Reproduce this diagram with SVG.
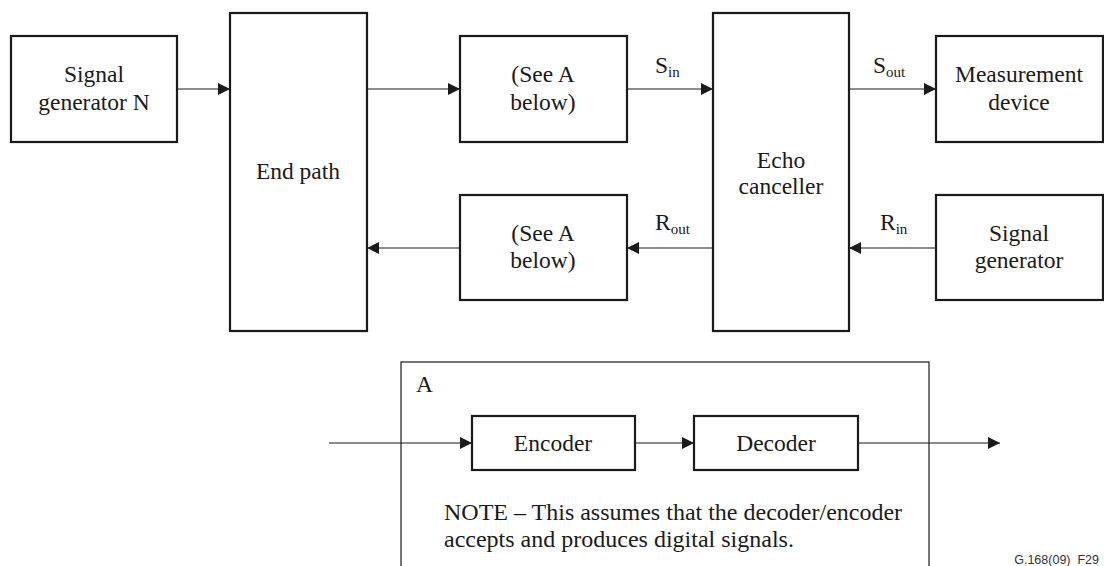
<svg xmlns="http://www.w3.org/2000/svg" width="1104" height="566" viewBox="0 0 1104 566">
<style>
.box{fill:#fff;stroke:#1a1a1a;stroke-width:2.2}
.thin{fill:none;stroke:#1a1a1a;stroke-width:1.2}
.t{font-family:'Liberation Serif','DejaVu Serif',serif;font-size:23.5px;fill:#1a1a1a;text-anchor:middle}
.l{font-family:'Liberation Serif','DejaVu Serif',serif;font-size:23.5px;fill:#1a1a1a}
.n{font-size:24px}
.sub{font-size:15px}
.c{stroke:#1a1a1a;stroke-width:1.2;fill:none}
</style>
<defs>
<marker id="ah" markerUnits="userSpaceOnUse" markerWidth="12" markerHeight="12" refX="12" refY="6" orient="auto">
<path d="M0,0 L12,6 L0,12 Z" fill="#1a1a1a"/>
</marker>
</defs>
<g id="sig-gen-n"><rect class="box" x="11" y="36" width="166" height="106"/><text class="t" x="94" y="82">Signal</text><text class="t" x="94" y="110">generator N</text></g>
<g id="end-path"><rect class="box" x="230" y="13" width="137" height="318"/><text class="t" x="298" y="179">End path</text></g>
<g id="see-a-top"><rect class="box" x="460" y="36" width="167" height="106"/><text class="t" x="543" y="82">(See A</text><text class="t" x="543" y="110">below)</text></g>
<g id="see-a-bottom"><rect class="box" x="460" y="195" width="167" height="105"/><text class="t" x="543" y="241">(See A</text><text class="t" x="543" y="268">below)</text></g>
<g id="echo-canceller"><rect class="box" x="713" y="13" width="136" height="318"/><text class="t" x="781" y="168">Echo</text><text class="t" x="781" y="194">canceller</text></g>
<g id="measurement"><rect class="box" x="936" y="36" width="167" height="106"/><text class="t" x="1019" y="82">Measurement</text><text class="t" x="1019" y="110">device</text></g>
<g id="sig-gen"><rect class="box" x="936" y="195" width="167" height="105"/><text class="t" x="1019" y="241">Signal</text><text class="t" x="1019" y="268">generator</text></g>
<g id="block-a">
<rect class="thin" x="401" y="362" width="528" height="220"/>
<text class="l" x="416" y="392">A</text>
<g id="encoder"><rect class="box" x="472" y="416" width="163" height="54"/><text class="t" x="553" y="451">Encoder</text></g>
<g id="decoder"><rect class="box" x="694" y="416" width="164" height="54"/><text class="t" x="776" y="451">Decoder</text></g>
<text class="l n" x="444" y="520">NOTE – This assumes that the decoder/encoder</text>
<text class="l n" x="444" y="547">accepts and produces digital signals.</text>
</g>
<g id="connectors">
<line class="c" x1="177" y1="89" x2="230" y2="89" marker-end="url(#ah)"/>
<line class="c" x1="367" y1="89" x2="460" y2="89" marker-end="url(#ah)"/>
<line class="c" x1="627" y1="89" x2="713" y2="89" marker-end="url(#ah)"/>
<line class="c" x1="849" y1="89" x2="936" y2="89" marker-end="url(#ah)"/>
<line class="c" x1="936" y1="248" x2="849" y2="248" marker-end="url(#ah)"/>
<line class="c" x1="713" y1="248" x2="627" y2="248" marker-end="url(#ah)"/>
<line class="c" x1="460" y1="248" x2="367" y2="248" marker-end="url(#ah)"/>
<line class="c" x1="329" y1="443" x2="472" y2="443" marker-end="url(#ah)"/>
<line class="c" x1="635" y1="443" x2="694" y2="443" marker-end="url(#ah)"/>
<line class="c" x1="858" y1="443" x2="1000" y2="443" marker-end="url(#ah)"/>
</g>
<g id="labels">
<text class="l" x="655" y="73">S<tspan class="sub" dy="4">in</tspan></text>
<text class="l" x="873" y="73">S<tspan class="sub" dy="4">out</tspan></text>
<text class="l" x="655" y="230">R<tspan class="sub" dy="4">out</tspan></text>
<text class="l" x="880" y="230">R<tspan class="sub" dy="4">in</tspan></text>
</g>
<text x="1099" y="564" font-family="'Liberation Sans', Arial, sans-serif" font-size="12.5" fill="#333" text-anchor="end">G.168(09)_F29</text>
</svg>
